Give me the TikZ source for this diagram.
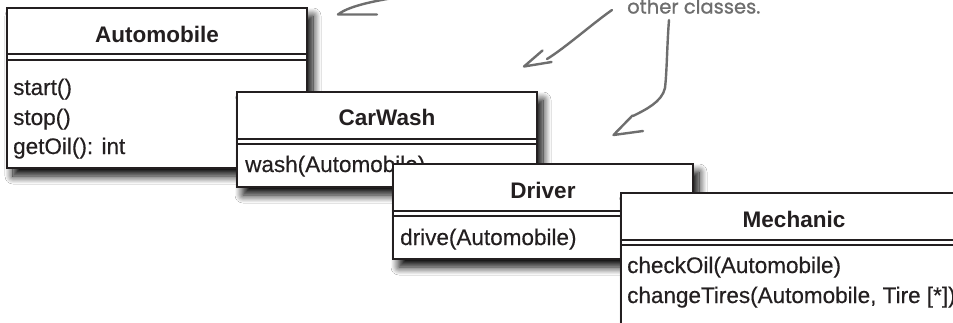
\documentclass[tikz,border=0pt]{standalone}
\usepackage{fontspec}
\setmainfont{Liberation Sans}
\newfontfamily\memberfont[FakeBold=0.35]{Liberation Sans}
\newfontfamily\handfont[FakeBold=1]{Poppins}
\usetikzlibrary{shadows.blur}
\definecolor{boxline}{HTML}{231F20}
\definecolor{notegray}{HTML}{6E6E6E}
\tikzset{
  classbox/.style={draw=boxline, line width=2.6pt, fill=white, rectangle,
    inner sep=0pt, outer sep=0pt, anchor=north west,
    blur shadow={shadow xshift=6pt, shadow yshift=-8pt, shadow blur radius=8pt,
      shadow blur steps=14, shadow opacity=100}},
  classtitle/.style={font=\fontsize{22.5}{26}\selectfont\bfseries, text=boxline,
    anchor=base, inner sep=0pt},
  member/.style={font=\memberfont\fontsize{22.5}{26}\selectfont, text=boxline,
    anchor=base west, inner sep=0pt},
  sepline/.style={draw=boxline, line width=2pt},
  note/.style={draw=notegray, line width=2.4pt, line cap=round, line join=round},
  notetext/.style={font=\handfont\fontsize{19.5}{22}\selectfont, text=notegray,
    anchor=base west, inner sep=0pt}
}
\begin{document}
\begin{tikzpicture}[x=1pt,y=-1pt]
\useasboundingbox (0,0) rectangle (953,322);
\clip (0,0) rectangle (953,322);
\fill[white] (0,0) rectangle (953,322);

% Automobile
\node[classbox, minimum width=300pt, minimum height=160pt] (auto) at (7,8) {};
\node[classtitle] (auto-t) at (157,42) {Automobile};
\draw[sepline] (7,54) -- (307,54);
\draw[sepline] (7,59.5) -- (307,59.5);
\node[member] (auto-m1) at (13,95) {start()};
\node[member] (auto-m2) at (13,125) {stop()};
\node[member] (auto-m3) at (13,154) {getOil(): int};

% CarWash
\node[classbox, minimum width=300pt, minimum height=95pt] (wash) at (237,92) {};
\node[classtitle] (wash-t) at (387,125) {CarWash};
\draw[sepline] (237,138.5) -- (537,138.5);
\draw[sepline] (237,144) -- (537,144);
\node[member] (wash-m1) at (245,172) {wash(Automobile)};

% Driver
\node[classbox, minimum width=300pt, minimum height=95pt] (driver) at (393,164) {};
\node[classtitle] (driver-t) at (543,198) {Driver};
\draw[sepline] (393,210.8) -- (693,210.8);
\draw[sepline] (393,215.5) -- (693,215.5);
\node[member] (driver-m1) at (400,245) {drive(Automobile)};

% Mechanic
\node[classbox, minimum width=346pt, minimum height=150pt] (mech) at (621,193) {};
\node[classtitle] (mech-t) at (794,227) {Mechanic};
\draw[sepline] (621,239.8) -- (967,239.8);
\draw[sepline] (621,244.5) -- (967,244.5);
\node[member] (mech-m1) at (627,273) {checkOil(Automobile)};
\node[member] (mech-m2) at (627,303) {changeTires(Automobile, Tire [*])};

% annotation
\node[notetext] (note) at (627,13.5) {other classes.};

\coordinate (a1s) at (405,-4);
\coordinate (a1t) at (338,14.5);
\coordinate (a1b) at (377,14.5);
\draw[note] (a1s) .. controls (380,0) and (350,5) .. (a1t) -- (a1b);

\coordinate (a2s) at (612,10);
\coordinate (a2t) at (524,66.5);
\draw[note] (a2s) .. controls (592,24) and (565,48) .. (547,59);
\draw[note] (542.5,50.5) -- (a2t) -- (551.5,62);

\coordinate (a3s) at (669,20);
\coordinate (a3t) at (613.5,135);
\draw[note] (a3s) .. controls (667,45) and (667,70) .. (665,88)
  .. controls (662,102) and (645,110) .. (633,116);
\draw[note] (632.5,115.5) -- (a3t) -- (643,131);
\end{tikzpicture}
\end{document}
